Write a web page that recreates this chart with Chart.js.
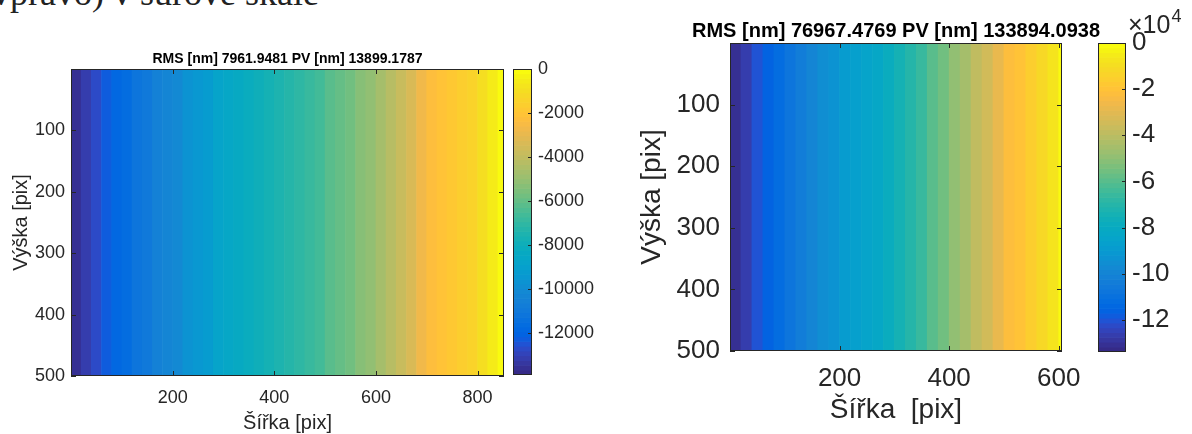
<!DOCTYPE html>
<html>
<head>
<meta charset="utf-8">
<script src="https://cdn.jsdelivr.net/npm/chart.js@4/dist/chart.umd.min.js"></script>
<style>
body { margin: 0; width: 1192px; height: 434px; background: #fff; position: relative; overflow: hidden; }
.box { position: absolute; }
#caption { position: absolute; left: -20px; top: -25px; font: 36px/1 "Liberation Serif", serif; color: #222; white-space: nowrap; }
</style>
</head>
<body>
<div id="caption">(vpravo) v surové škále</div>
<div class="box" style="left:0;top:0;width:510px;height:434px"><canvas id="mapL"></canvas></div>
<div class="box" style="left:505px;top:0;width:120px;height:434px"><canvas id="barL"></canvas></div>
<div class="box" style="left:600px;top:0;width:592px;height:434px"><canvas id="mapR"></canvas></div>
<div class="box" style="left:1090px;top:0;width:102px;height:434px"><canvas id="barR"></canvas></div>
<script>
// left surface: column centres [pix] and height [nm] (constant along rows)
const leftCols = [10, 30, 50, 70, 90, 110, 130, 150, 170, 190, 210, 230, 250, 270, 290, 310, 330, 350, 370, 390, 410,
    430, 450, 470, 490, 510, 530, 550, 570, 590, 610, 630, 650, 670, 690, 710, 730, 750, 770, 790, 810, 830, 850];
const leftHeight = [-13621, -13204, -12648, -12231, -11814, -11536, -11258, -10980, -10633, -10285, -10007, -9729,
    -9451, -9173, -8895, -8617, -8409, -8200, -7992, -7783, -7575, -7366, -7088, -6811, -6533, -6255, -5977, -5699,
    -5421, -5073, -4726, -4309, -3892, -3336, -2780, -2293, -2015, -1807, -1598, -1390, -1042, -625, -208];
const leftWidth = 852;
const leftRows = 500;
const leftMin = -13899.1787;
const leftTitle = 'RMS [nm] 7961.9481 PV [nm] 13899.1787';
const leftXTicks = [200, 400, 600, 800];
const leftCbTicks = [0, -2000, -4000, -6000, -8000, -10000, -12000];

// right surface
const rightCols = [10, 30, 50, 70, 90, 110, 130, 150, 170, 190, 210, 230, 250, 270, 290, 310, 330, 350, 370, 390,
    410, 430, 450, 470, 490, 510, 530, 550, 570, 590, 610];
const rightHeight = [-131216, -127199, -120505, -115149, -111132, -107115, -103098, -99082, -95065, -92387, -89709,
    -87031, -84353, -81675, -78997, -74981, -70964, -65608, -60252, -54897, -49541, -44185, -38829, -33474, -28118,
    -22762, -19415, -16067, -12050, -6695, -2008];
const rightWidth = 606;
const rightRows = 500;
const rightMin = -133894.0938;
const rightTitle = 'RMS [nm] 76967.4769 PV [nm] 133894.0938';
const rightXTicks = [200, 400, 600];
const rightCbTicks = [0, -20000, -40000, -60000, -80000, -100000, -120000];

const yTicks = [100, 200, 300, 400, 500];

const FONT = '"Liberation Sans", Arial, sans-serif';
const INK = '#262626';

// MATLAB parula(64)
const PARULA = [
[0.2081,0.1663,0.5292],[0.2116,0.1898,0.5777],[0.2123,0.2138,0.6270],[0.2081,0.2386,0.6771],
[0.1959,0.2645,0.7279],[0.1707,0.2919,0.7792],[0.1253,0.3242,0.8303],[0.0591,0.3598,0.8683],
[0.0117,0.3875,0.8820],[0.0060,0.4086,0.8828],[0.0165,0.4266,0.8786],[0.0329,0.4430,0.8720],
[0.0498,0.4586,0.8641],[0.0629,0.4737,0.8554],[0.0723,0.4887,0.8467],[0.0779,0.5040,0.8384],
[0.0793,0.5200,0.8312],[0.0749,0.5375,0.8263],[0.0641,0.5570,0.8240],[0.0488,0.5772,0.8228],
[0.0343,0.5966,0.8199],[0.0265,0.6137,0.8135],[0.0239,0.6287,0.8038],[0.0231,0.6418,0.7913],
[0.0228,0.6535,0.7768],[0.0267,0.6642,0.7607],[0.0384,0.6743,0.7436],[0.0590,0.6838,0.7254],
[0.0843,0.6928,0.7062],[0.1133,0.7015,0.6859],[0.1453,0.7098,0.6646],[0.1801,0.7177,0.6424],
[0.2178,0.7250,0.6193],[0.2586,0.7317,0.5954],[0.3022,0.7376,0.5712],[0.3482,0.7424,0.5473],
[0.3953,0.7459,0.5244],[0.4420,0.7481,0.5033],[0.4871,0.7491,0.4840],[0.5300,0.7491,0.4661],
[0.5709,0.7485,0.4494],[0.6099,0.7473,0.4337],[0.6473,0.7456,0.4188],[0.6834,0.7435,0.4044],
[0.7184,0.7411,0.3905],[0.7525,0.7384,0.3768],[0.7858,0.7356,0.3633],[0.8185,0.7327,0.3498],
[0.8507,0.7299,0.3360],[0.8824,0.7274,0.3217],[0.9139,0.7258,0.3063],[0.9450,0.7261,0.2886],
[0.9739,0.7314,0.2666],[0.9938,0.7455,0.2403],[0.9990,0.7653,0.2164],[0.9955,0.7861,0.1967],
[0.9880,0.8066,0.1794],[0.9789,0.8271,0.1633],[0.9697,0.8481,0.1475],[0.9626,0.8705,0.1309],
[0.9589,0.8949,0.1132],[0.9598,0.9218,0.0948],[0.9661,0.9514,0.0755],[0.9763,0.9831,0.0538]];

function parula(v, lo, hi) {
    let i = Math.floor((v - lo) / (hi - lo) * PARULA.length);
    i = Math.max(0, Math.min(PARULA.length - 1, i));
    const c = PARULA[i];
    return `rgb(${Math.round(c[0] * 255)},${Math.round(c[1] * 255)},${Math.round(c[2] * 255)})`;
}

// box around the axes, inward tick marks (matlab style) and the axes title
const frame = {
    id: 'frame',
    afterDatasetsDraw(chart, args, opts) {
        const { ctx, chartArea: a, scales } = chart;
        const L = opts.len || 5;
        ctx.save();
        ctx.strokeStyle = INK;
        ctx.lineWidth = 1;
        ctx.beginPath();
        if (opts.xTicks) {
            scales.x.ticks.forEach(t => {
                const p = Math.round(scales.x.getPixelForValue(t.value)) + 0.5;
                ctx.moveTo(p, a.bottom); ctx.lineTo(p, a.bottom - L);
                ctx.moveTo(p, a.top); ctx.lineTo(p, a.top + L);
            });
        }
        scales.y.ticks.forEach(t => {
            const p = Math.round(scales.y.getPixelForValue(t.value)) + 0.5;
            if (opts.yLeft) { ctx.moveTo(a.left, p); ctx.lineTo(a.left + L, p); }
            ctx.moveTo(a.right, p); ctx.lineTo(a.right - L, p);
        });
        ctx.stroke();
        ctx.strokeRect(Math.round(a.left) + 0.5, Math.round(a.top) + 0.5,
            Math.round(a.right - a.left) - 1, Math.round(a.bottom - a.top) - 1);
        ctx.fillStyle = INK;
        if (opts.title) {
            // matlab lets the title run wider than the axes, so it is drawn here, centred on the plot
            ctx.fillStyle = '#000';
            ctx.font = `bold ${opts.titleSize}px ${FONT}`;
            ctx.textAlign = 'center';
            ctx.textBaseline = 'middle';
            ctx.fillText(opts.title, (a.left + a.right) / 2, a.top - opts.titleGap);
        }
        if (opts.exponent) {
            // the x10^4 multiplier above the colorbar
            ctx.fillStyle = INK;
            ctx.textAlign = 'left';
            ctx.textBaseline = 'alphabetic';
            ctx.font = `25px ${FONT}`;
            ctx.fillText('\u00d710', a.right + 2, a.top - 10);
            const w = ctx.measureText('\u00d710').width;
            ctx.font = `18px ${FONT}`;
            ctx.fillText('4', a.right + 3 + w, a.top - 21);
        }
        ctx.restore();
    }
};

function heatmap(id, cols, vals, cmin, xMax, rows, xTicks, title, s) {
    return new Chart(document.getElementById(id), {
        type: 'bar',
        data: {
            datasets: [{
                data: cols.map(c => ({ x: c, y: [0, rows] })),
                backgroundColor: vals.map(v => parula(v, cmin, 0)),
                borderWidth: 0,
                barPercentage: 1.06,
                categoryPercentage: 1
            }]
        },
        options: {
            responsive: true,
            maintainAspectRatio: false,
            animation: false,
            layout: { padding: { left: 0, right: s.padRight, top: s.padTop, bottom: 0 } },
            plugins: {
                legend: { display: false },
                tooltip: { enabled: false },
                frame: { len: 5, xTicks: true, yLeft: true, title: title, titleSize: s.titleSize, titleGap: s.titleGap }
            },
            scales: {
                x: {
                    type: 'linear', min: 0, max: xMax, offset: false,
                    grid: { display: false, offset: false, drawTicks: false },
                    border: { display: false },
                    afterBuildTicks: sc => { sc.ticks = xTicks.map(v => ({ value: v })); },
                    afterFit: sc => { sc.height = s.xHeight; },
                    ticks: { color: INK, font: { family: FONT, size: s.tickSize }, padding: s.xTickPad, maxRotation: 0, autoSkip: false },
                    title: { display: true, text: s.xLabel, color: INK, font: { family: FONT, size: s.labelSize, lineHeight: 1 }, padding: { top: 0, bottom: s.xLabelPad } }
                },
                y: {
                    type: 'linear', min: 0, max: rows, reverse: true,
                    grid: { display: false, drawTicks: false },
                    border: { display: false },
                    afterBuildTicks: sc => { sc.ticks = yTicks.map(v => ({ value: v })); },
                    afterFit: sc => { sc.width = s.yWidth; },
                    ticks: { color: INK, font: { family: FONT, size: s.tickSize }, padding: s.yTickPad, autoSkip: false },
                    title: { display: true, text: 'Výška [pix]', color: INK, font: { family: FONT, size: s.labelSize, lineHeight: 1 }, padding: { top: s.yLabelPad, bottom: 0 } }
                }
            }
        },
        plugins: [frame]
    });
}

function colorbar(id, cmin, ticks, fmt, s) {
    const n = PARULA.length;
    const step = (0 - cmin) / n;
    const segs = PARULA.map((c, i) => ({ x: 0, y: [cmin + i * step, cmin + (i + 1) * step] }));
    return new Chart(document.getElementById(id), {
        type: 'bar',
        data: {
            datasets: [{
                data: segs,
                backgroundColor: segs.map(d => parula((d.y[0] + d.y[1]) / 2, cmin, 0)),
                borderWidth: 0,
                barPercentage: 1,
                categoryPercentage: 1,
                grouped: false
            }]
        },
        options: {
            responsive: true,
            maintainAspectRatio: false,
            animation: false,
            layout: { padding: { left: s.padLeft, right: 0, top: s.padTop, bottom: s.padBottom } },
            plugins: {
                legend: { display: false },
                tooltip: { enabled: false },
                frame: { len: 4, xTicks: false, yLeft: false, exponent: s.exponent }
            },
            scales: {
                x: { type: 'linear', min: -0.5, max: 0.5, offset: false, display: false },
                y: {
                    type: 'linear', position: 'right', min: cmin, max: 0,
                    grid: { display: false, drawTicks: false },
                    border: { display: false },
                    afterBuildTicks: sc => { sc.ticks = ticks.map(v => ({ value: v })); },
                    afterFit: sc => { sc.width = s.axisWidth; },
                    ticks: { color: INK, font: { family: FONT, size: s.tickSize }, padding: 6, autoSkip: false, callback: fmt }
                }
            }
        },
        plugins: [frame]
    });
}

heatmap('mapL', leftCols, leftHeight, leftMin, leftWidth, leftRows, leftXTicks, leftTitle, {
    padRight: 6, padTop: 69, titleSize: 14, titleGap: 10,
    xHeight: 58, tickSize: 18, xTickPad: 11, labelSize: 20, xLabelPad: 1, xLabel: 'Šířka [pix]',
    yWidth: 71, yTickPad: 6, yLabelPad: 11
});
colorbar('barL', leftMin, leftCbTicks, v => String(v), {
    padLeft: 8, padTop: 69, padBottom: 59, axisWidth: 93, tickSize: 18, exponent: false
});

heatmap('mapR', rightCols, rightHeight, rightMin, rightWidth, rightRows, rightXTicks, rightTitle, {
    padRight: 130, padTop: 43, titleSize: 20, titleGap: 12,
    xHeight: 83, tickSize: 26, xTickPad: 12, labelSize: 28, xLabelPad: 10, xLabel: 'Šířka  [pix]',
    yWidth: 130, yTickPad: 10, yLabelPad: 38
});
colorbar('barR', rightMin, rightCbTicks, v => String(v / 10000), {
    padLeft: 8, padTop: 43, padBottom: 82, axisWidth: 66, tickSize: 26, exponent: true
});
</script>
</body>
</html>
